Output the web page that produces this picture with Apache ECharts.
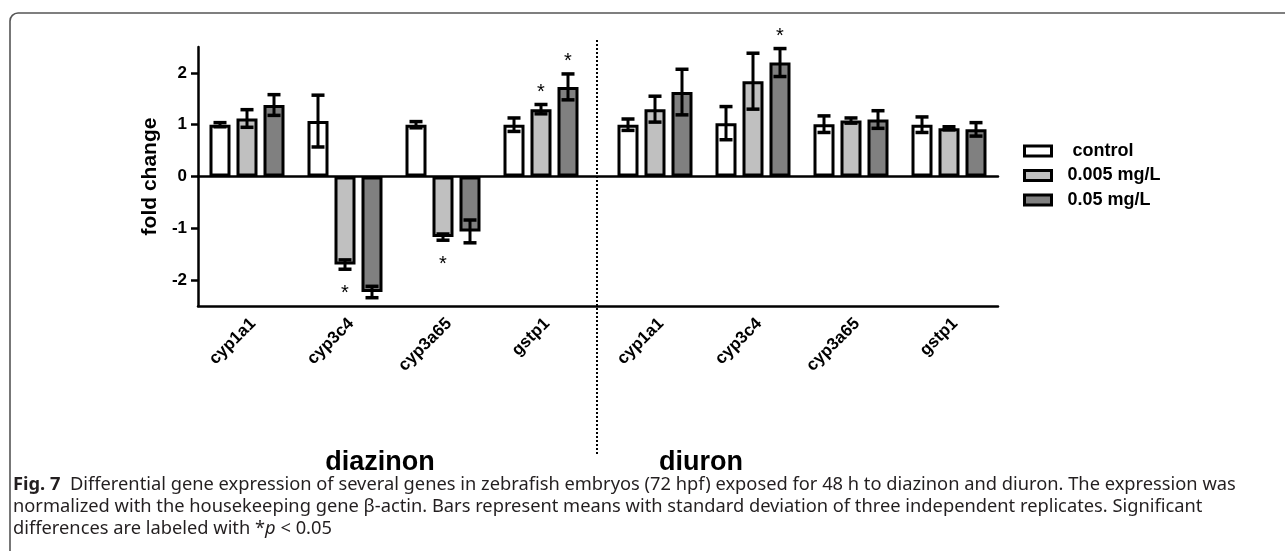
<!DOCTYPE html>
<html><head><meta charset="utf-8">
<script src="https://cdn.jsdelivr.net/npm/echarts@6/dist/echarts.min.js"></script>
<style>html,body{margin:0;padding:0;background:#fff}#c{width:1285px;height:551px}</style>
</head><body><div id="c"></div>
<script>
// ---- data ----
const genes = ['cyp1a1', 'cyp3c4', 'cyp3a65', 'gstp1'];
const doseNames = ['control', '0.005 mg/L', '0.05 mg/L'];
const yTicks = [-2, -1, 0, 1, 2];

const diazinonControl = [1.00, 1.07, 1.00, 1.00];
const diazinonLow     = [1.12, -1.70, -1.17, 1.30];
const diazinonHigh    = [1.38, -2.23, -1.06, 1.73];
const diazinonControlSD = [0.04, 0.50, 0.06, 0.13];
const diazinonLowSD     = [0.17, 0.09, 0.06, 0.09];
const diazinonHighSD    = [0.20, 0.11, 0.22, 0.25];

const diuronControl = [1.00, 1.03, 1.01, 1.00];
const diuronLow     = [1.30, 1.84, 1.08, 0.93];
const diuronHigh    = [1.63, 2.20, 1.10, 0.91];
const diuronControlSD = [0.11, 0.32, 0.16, 0.15];
const diuronLowSD     = [0.25, 0.54, 0.05, 0.03];
const diuronHighSD    = [0.44, 0.27, 0.17, 0.13];

// significant marks: [gene index, dose index]
const diazinonSignificant = [[1, 1], [2, 1], [3, 1], [3, 2]];
const diuronSignificant = [[1, 2]];

// ---- build ----
const FONT = '"Liberation Sans", Arial, Helvetica, sans-serif';
const CAPFONT = '"Noto Sans", "Open Sans", sans-serif';
const CAPSIZE = 18.3;
const colors = ['#ffffff', '#c0c0c0', '#808080'];
const BAR_W = 21, BAR_STEP = 27;
const TOP = 47, H = 259;

function barSeries(name, data, color, idx) {
  return { type: 'bar', name: name, data: data, xAxisIndex: idx + 1, yAxisIndex: idx,
    barWidth: BAR_W, barGap: '28.57%', animation: false, z: 2,
    itemStyle: { color: color, borderColor: '#000', borderWidth: 3 } };
}
function errData(means, sds) {
  const out = [];
  means.forEach((arr, d) => arr.forEach((m, g) => out.push([g, d, m, sds[d][g]])));
  return out;
}
function sigData(sig, means, sds) {
  return sig.map(([g, d]) => [g, d, means[d][g], sds[d][g]]);
}
function errRender(params, api) {
  const g = api.value(0), d = api.value(1), m = api.value(2), s = api.value(3);
  const top = api.coord([g, m + s]), bot = api.coord([g, m - s]);
  const x = top[0] + (d - 1) * BAR_STEP;
  const cw = 6.5;
  return { type: 'group', children: [
    { type: 'line', shape: { x1: x, y1: top[1], x2: x, y2: bot[1] }, style: { stroke: '#000', lineWidth: 3 } },
    { type: 'line', shape: { x1: x - cw, y1: top[1], x2: x + cw, y2: top[1] }, style: { stroke: '#000', lineWidth: 3.5 } },
    { type: 'line', shape: { x1: x - cw, y1: bot[1], x2: x + cw, y2: bot[1] }, style: { stroke: '#000', lineWidth: 3.5 } }
  ]};
}
function starRender(params, api) {
  const g = api.value(0), d = api.value(1), m = api.value(2), s = api.value(3);
  const end = m >= 0 ? m + s : m - s;
  const p = api.coord([g, end]);
  const x = p[0] + (d - 1) * BAR_STEP;
  const y = m >= 0 ? p[1] - 12 : p[1] + 24;
  return { type: 'text', x: x, y: y, style: { text: '*', fill: '#000',
    font: '20px ' + FONT, align: 'center', verticalAlign: 'middle' } };
}

const dzMeans = [diazinonControl, diazinonLow, diazinonHigh];
const dzSDs = [diazinonControlSD, diazinonLowSD, diazinonHighSD];
const duMeans = [diuronControl, diuronLow, diuronHigh];
const duSDs = [diuronControlSD, diuronLowSD, diuronHighSD];

const series = [];
doseNames.forEach((n, i) => series.push(barSeries(n, dzMeans[i], colors[i], 1)));
doseNames.forEach((n, i) => series.push(barSeries(n, duMeans[i], colors[i], 2)));
series.push({ type: 'custom', xAxisIndex: 2, yAxisIndex: 1, data: errData(dzMeans, dzSDs), renderItem: errRender, z: 5, animation: false, silent: true });
series.push({ type: 'custom', xAxisIndex: 3, yAxisIndex: 2, data: errData(duMeans, duSDs), renderItem: errRender, z: 5, animation: false, silent: true });
series.push({ type: 'custom', xAxisIndex: 2, yAxisIndex: 1, data: sigData(diazinonSignificant, dzMeans, dzSDs), renderItem: starRender, z: 6, animation: false, silent: true, clip: false });
series.push({ type: 'custom', xAxisIndex: 3, yAxisIndex: 2, data: sigData(diuronSignificant, duMeans, duSDs), renderItem: starRender, z: 6, animation: false, silent: true, clip: false });

const lineAx = { color: '#000', width: 2.5 };
const catAxis = (gi) => ({ gridIndex: gi, type: 'category', data: genes, position: 'bottom',
  axisLine: { show: false, onZero: false }, axisTick: { show: false }, splitLine: { show: false },
  axisLabel: { interval: 0, rotate: 45, margin: 9, align: 'right', verticalAlign: 'top',
    fontFamily: FONT, fontWeight: 'bold', fontSize: 17, color: '#000' } });
const hiddenY = (gi) => ({ gridIndex: gi, type: 'value', min: -2.5, max: 2.5, show: false });

const option = {
  backgroundColor: '#fff',
  animation: false,
  grid: [
    { left: 198, top: TOP, width: 800, height: H },
    { left: 198, top: TOP, width: 392, height: H },
    { left: 606, top: TOP, width: 392, height: H }
  ],
  xAxis: [
    { gridIndex: 0, type: 'value', min: 0, max: 1, position: 'bottom', axisLine: { onZero: false, lineStyle: lineAx },
      axisTick: { show: false }, axisLabel: { show: false }, splitLine: { show: false } },
    { gridIndex: 0, type: 'value', min: 0, max: 1, position: 'top', axisLine: { onZero: true, lineStyle: lineAx },
      axisTick: { show: false }, axisLabel: { show: false }, splitLine: { show: false } },
    catAxis(1), catAxis(2)
  ],
  yAxis: [
    { gridIndex: 0, type: 'value', min: -2.5, max: 2.5,
      axisLine: { show: true, onZero: false, lineStyle: lineAx },
      axisTick: { show: true, length: 7, customValues: yTicks, lineStyle: { color: '#000', width: 2.5 } },
      axisLabel: { customValues: yTicks, margin: 11, fontFamily: FONT, fontWeight: 'bold', fontSize: 17, color: '#000' },
      splitLine: { show: false },
      name: 'fold change', nameLocation: 'middle', nameGap: 31,
      nameTextStyle: { fontFamily: FONT, fontWeight: 'bold', fontSize: 21, color: '#000' } },
    hiddenY(1), hiddenY(2)
  ],
  legend: {
    data: doseNames, orient: 'vertical', left: 1018, top: 137, itemWidth: 27, itemHeight: 10, itemGap: 6.5,
    icon: 'rect', selectedMode: false,
    itemStyle: { borderColor: '#000', borderWidth: 3 },
    textStyle: { fontFamily: FONT, fontWeight: 'bold', fontSize: 18, color: '#000', padding: [0, 0, 0, 11] },
    formatter: n => n === 'control' ? ' ' + n : n
  },
  series: series,
  graphic: [
    { type: 'rect', silent: true, shape: { x: 10, y: 13, width: 1320, height: 620, r: 8 },
      style: { fill: 'none', stroke: '#555', lineWidth: 1.6 } },
    { type: 'line', silent: true, shape: { x1: 597, y1: 40, x2: 597, y2: 456 },
      style: { stroke: '#000', lineWidth: 2, lineDash: [2, 2] } },
    { type: 'text', silent: true, x: 380, y: 463, style: { text: 'diazinon', fill: '#000',
      font: 'bold 27px ' + FONT, align: 'center', verticalAlign: 'middle' } },
    { type: 'text', silent: true, x: 701, y: 463, style: { text: 'diuron', fill: '#000',
      font: 'bold 27px ' + FONT, align: 'center', verticalAlign: 'middle' } },
    { type: 'text', silent: true, x: 13, y: 485, style: {
      text: '{b|Fig. 7}  Differential gene expression of several genes in zebrafish embryos (72 hpf) exposed for 48 h to diazinon and diuron. The expression was',
      fill: '#231f20', font: CAPSIZE + 'px ' + CAPFONT, verticalAlign: 'middle',
      rich: { b: { fontWeight: 'bold', fontFamily: CAPFONT, fontSize: CAPSIZE, fill: '#231f20' } } } },
    { type: 'text', silent: true, x: 13, y: 507, style: {
      text: 'normalized with the housekeeping gene β-actin. Bars represent means with standard deviation of three independent replicates. Significant',
      fill: '#231f20', font: CAPSIZE + 'px ' + CAPFONT, verticalAlign: 'middle' } },
    { type: 'text', silent: true, x: 13, y: 529, style: {
      text: 'differences are labeled with *{i|p} < 0.05',
      fill: '#231f20', font: CAPSIZE + 'px ' + CAPFONT, verticalAlign: 'middle',
      rich: { i: { fontStyle: 'italic', fontFamily: CAPFONT, fontSize: CAPSIZE, fill: '#231f20' } } } }
  ]
};
const chart = echarts.init(document.getElementById('c'), null, { renderer: 'canvas' });
chart.setOption(option);
</script>
</body></html>
